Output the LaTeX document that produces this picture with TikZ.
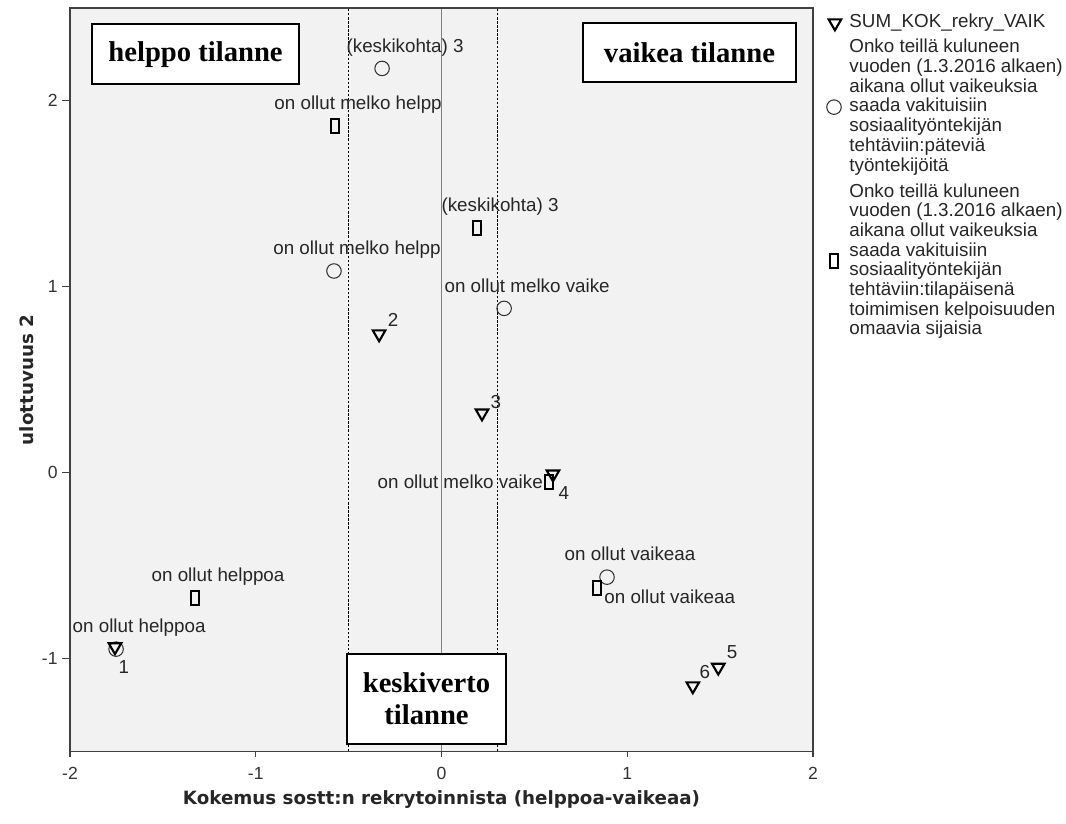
\documentclass[tikz,border=0pt]{standalone}
\usepackage{fontspec}
\setmainfont{Liberation Sans}
\newfontfamily\boxfont{Liberation Serif}
\newfontfamily\titlefont{DejaVu Sans}
\usetikzlibrary{shapes.geometric}
\definecolor{plotbg}{HTML}{F2F2F2}
\definecolor{ink}{HTML}{262626}
\tikzset{>=stealth,
  frame/.style={draw=black!75, line width=0.6pt},
  zeroline/.style={draw=black!50, line width=1.1pt},
  cutline/.style={draw=black, line width=0.6pt, dash pattern=on 1.3pt off 1pt},
  tri/.style={draw=black, line width=1.2pt, regular polygon, regular polygon sides=3,
    shape border rotate=180, minimum size=0.29cm, inner sep=0pt},
  circ/.style={draw=black!80, line width=0.6pt, circle, minimum size=0.29cm, inner sep=0pt},
  rect/.style={draw=black, line width=1.2pt, rectangle, minimum width=0.16cm,
    minimum height=0.29cm, inner sep=0pt},
  lbl/.style={text=ink, inner sep=0pt, font=\fontsize{10.7}{11.2}\selectfont},
  lblup/.style={lbl, anchor=base},
  leg/.style={lbl, anchor=west, align=left},
  tick/.style={text=black!80, inner sep=0pt, font=\fontsize{10}{12}\selectfont},
  axtitle/.style={text=ink, inner sep=0pt, font=\titlefont\bfseries\fontsize{10.4}{12}\selectfont},
  situ/.style={draw, line width=1.1pt, fill=white, align=center,
    font=\boxfont\bfseries\fontsize{16.3}{18.2}\selectfont}
}
\begin{document}
\begin{tikzpicture}[x=3.715cm, y=3.72cm]
  \useasboundingbox (-2.377,-1.887) rectangle (3.362,2.538);
  \fill[plotbg] (-2,-1.5) rectangle (2,2.495);
  \draw[zeroline] (0,-1.5) -- (0,2.495);
  \draw[cutline] (-0.5,-1.5) -- (-0.5,2.495);
  \draw[cutline] (0.3,-1.5) -- (0.3,2.495);
  \draw[frame] (-2,-1.5) rectangle (2,2.495);
  \foreach \x/\n in {-2/a,-1/b,0/c,1/d,2/e} {
    \draw[frame] (\x,-1.5) -- (\x,-1.532);
    \node[tick] (xt\n) at (\x,-1.618) {\x};
  }
  \foreach \y/\n in {-1/a,0/b,1/c,2/d} {
    \draw[frame] (-2,\y) -- (-2.043,\y);
    \node[tick, anchor=east] (yt\n) at (-2.065,\y) {\y};
  }
  \node[axtitle] (xtitle) at (0,-1.763) {Kokemus sostt:n rekrytoinnista (helppoa-vaikeaa)};
  \node[axtitle, rotate=90] (ytitle) at (-2.232,0.495) {ulottuvuus 2};

  \node[situ, minimum width=4.14cm, minimum height=1.2cm] (easy) at (-1.324,2.247) {helppo tilanne};
  \node[situ, minimum width=4.26cm, minimum height=1.18cm] (hard) at (1.335,2.255) {vaikea tilanne};
  \node[situ, minimum width=3.18cm, minimum height=1.8cm] (avg) at (-0.081,-1.22) {keskiverto\\tilanne};

  \node[circ] (ckesk) at (-0.32,2.17) {};
  \node[circ] (cmh) at (-0.579,1.081) {};
  \node[circ] (cmv) at (0.337,0.88) {};
  \node[circ] (cv) at (0.891,-0.565) {};
  \node[circ] (ch) at (-1.752,-0.952) {};
  \node[rect] (smh) at (-0.573,1.86) {};
  \node[rect] (skesk) at (0.191,1.312) {};
  \node[rect] (smv) at (0.579,-0.054) {};
  \node[rect] (sv) at (0.837,-0.624) {};
  \node[rect] (sh) at (-1.327,-0.677) {};
  \node[tri] (t1) at (-1.758,-0.94) {};
  \node[tri] (t2) at (-0.336,0.742) {};
  \node[tri] (t3) at (0.218,0.317) {};
  \node[tri] (t4) at (0.600,-0.011) {};
  \node[tri] (t5) at (1.49,-1.05) {};
  \node[tri] (t6) at (1.353,-1.15) {};

  \node[lblup] (lckesk) at ([shift={(0.124,0.088)}]ckesk) {(keskikohta) 3};
  \node[lblup] (lcmh) at ([shift={(0.124,0.088)}]cmh) {on ollut melko helpp};
  \node[lblup] (lcmv) at ([shift={(0.124,0.088)}]cmv) {on ollut melko vaike};
  \node[lblup] (lcv) at ([shift={(0.124,0.088)}]cv) {on ollut vaikeaa};
  \node[lblup] (lch) at ([shift={(0.124,0.088)}]ch) {on ollut helppoa};
  \node[lblup] (lsmh) at ([shift={(0.124,0.088)}]smh) {on ollut melko helpp};
  \node[lblup] (lskesk) at ([shift={(0.124,0.088)}]skesk) {(keskikohta) 3};
  \node[lblup] (lsh) at ([shift={(0.124,0.088)}]sh) {on ollut helppoa};
  \node[lbl, anchor=base east] (lsmv) at ([shift={(-0.032,-0.032)}]smv) {on ollut melko vaike};
  \node[lbl, anchor=base west] (lsv) at ([shift={(0.038,-0.081)}]sv) {on ollut vaikeaa};
  \node[lbl, text=black!85, anchor=center] (n1) at ([shift={(0.048,-0.108)}]t1) {1};
  \node[lbl, text=black!85, anchor=center] (n2) at ([shift={(0.075,0.075)}]t2) {2};
  \node[lbl, text=black!85, anchor=center] (n3) at ([shift={(0.075,0.06)}]t3) {3};
  \node[lbl, text=black!85, anchor=center] (n4) at ([shift={(0.059,-0.102)}]t4) {4};
  \node[lbl, text=black!85, anchor=center] (n5) at ([shift={(0.075,0.081)}]t5) {5};
  \node[lbl, text=black!85, anchor=center] (n6) at ([shift={(0.065,0.075)}]t6) {6};

  \node[tri] (legtri) at (2.118,2.414) {};
  \node[leg] (legsum) at (2.194,2.414) {SUM\_KOK\_rekry\_VAIK};
  \node[circ] (legcirc) at (2.113,1.962) {};
  \node[leg] (legpat) at (2.194,1.962) {Onko teillä kuluneen\\vuoden (1.3.2016 alkaen)\\aikana ollut vaikeuksia\\saada vakituisiin\\sosiaalityöntekijän\\tehtäviin:päteviä\\työntekijöitä};
  \node[rect] (legrect) at (2.113,1.134) {};
  \node[leg] (legsij) at (2.194,1.134) {Onko teillä kuluneen\\vuoden (1.3.2016 alkaen)\\aikana ollut vaikeuksia\\saada vakituisiin\\sosiaalityöntekijän\\tehtäviin:tilapäisenä\\toimimisen kelpoisuuden\\omaavia sijaisia};
\end{tikzpicture}
\end{document}
